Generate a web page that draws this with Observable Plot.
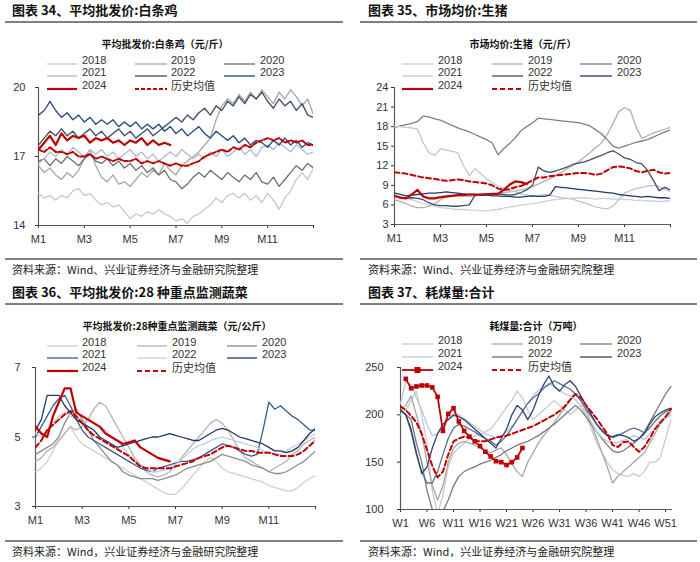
<!DOCTYPE html>
<html><head><meta charset="utf-8">
<script src="https://cdn.jsdelivr.net/npm/d3@7"></script>
<script src="https://cdn.jsdelivr.net/npm/@observablehq/plot@0.6"></script>
<style>
body{margin:0;background:#fff;width:700px;height:562px;position:relative;overflow:hidden;font-family:"Liberation Sans","Noto Sans CJK SC",sans-serif;}
.abs{position:absolute;white-space:nowrap;}
.hdr{font-family:"Noto Sans CJK SC";font-weight:700;font-size:13px;color:#111;}
.ttl{font-family:"Noto Sans CJK SC";font-weight:700;font-size:10px;color:#111;}
.lg{font-family:"Liberation Sans","Noto Sans CJK SC";font-size:11px;color:#333;}
.src{font-family:"Noto Sans CJK SC";font-size:11px;color:#222;}
</style></head><body>
<script>
// ---------- shared categories / ticks ----------
const seriesKeys = ["2018","2019","2020","2021","2022","2023","2024","历史均值"];
const monthTickVals = [0,2,4,6,8,10,12];
const monthTickLabels = ["M1","M3","M5","M7","M9","M11",""];
const weekTickVals = [1,6,11,16,21,26,31,36,41,46,51];
const weekTickLabels = ["W1","W6","W11","W16","W21","W26","W31","W36","W41","W46","W51"];
const monthX = d3.range(49).map(i => i / 4);
const weekX = d3.range(1, 53);

// ---------- 图表34 白条鸡 (元/斤) ----------
const chicken2018 = [15.4,15.2,15.3,15.1, 15.3,15.2,15.5,15.6, 15.3,15.4,15.1,14.9, 15.0,14.8,14.9,14.6, 14.3,14.5,14.4,14.6, 14.5,14.7,14.5,14.4, 14.2,14.3,14.1,14.4, 14.5,14.7,14.9,15.2, 15.0,15.3,15.4,15.2, 15.4,15.1,15.3,15.0, 15.4,15.1,14.7,15.2, 15.5,16.0,16.3,16.0, 16.5];
const chicken2019 = [16.6,16.3,16.5,16.2, 16.0,16.3,16.1,16.4, 16.9,17.3,16.6,16.1, 15.9,16.2,15.8,15.9, 15.7,16.0,16.3,16.1, 16.4,16.2,16.7,16.4, 16.2,16.6,16.8,17.0, 17.2,17.5,17.8,18.6, 19.2,19.5,19.3,19.7, 19.4,19.8,19.5,19.9, 19.6,19.3,19.8,19.5, 19.9,19.6,19.2,19.5, 18.8];
const chicken2020 = [16.8,16.9,16.6,16.9, 16.7,17.0,16.8,16.6, 16.9,17.1,16.8,16.7, 16.9,16.6,16.8,16.5, 16.7,16.4,16.6,16.3, 16.5,16.2,16.4,16.0, 15.9,15.6,15.8,16.1, 16.3,16.1,16.4,16.2, 16.0,16.3,16.1,15.9, 16.2,16.0,16.3,15.9, 15.8,16.1,15.7,16.0, 16.3,16.6,16.4,16.7, 16.5];
const chicken2021 = [16.7,16.9,17.2,17.0, 17.3,17.1,17.4,17.2, 17.0,17.3,17.1,17.3, 17.0,17.2,16.9,17.1, 17.3,17.0,17.2,16.9, 17.1,16.8,17.0,17.2, 17.0,17.3,17.1,16.9, 17.1,16.9,17.2,17.0, 17.3,17.0,17.2,17.4, 17.1,17.3,17.0,17.4, 17.5,17.3,17.6,17.4, 17.2,17.5,17.3,17.1, 17.2];
const chicken2022 = [17.5,17.8,18.1,17.9, 18.2,17.9,18.1,17.8, 18.0,18.2,17.9,18.1, 17.8,18.0,18.2,17.9, 18.1,17.8,18.0,18.2, 17.9,18.1,18.3,18.5, 18.7,18.5,18.8,18.6, 18.9,19.1,18.8,19.2, 19.0,19.4,19.2,19.6, 19.3,19.7,19.5,19.8, 19.4,19.1,19.5,19.2, 19.4,19.0,19.3,18.8, 18.7];
const chicken2023 = [18.8,19.0,19.4,19.0, 18.7,18.9,18.6,18.8, 18.5,18.7,18.4,18.6, 18.4,18.6,18.3,18.5, 18.3,18.5,18.2,18.4, 18.2,18.4,18.1,18.3, 18.0,18.2,17.9,18.1, 18.3,18.0,17.8,18.1, 17.9,17.7,17.9,17.6, 17.8,17.5,17.7,17.6, 17.4,17.7,17.5,17.8, 17.5,17.7,17.4,17.6, 17.5];
const chicken2024 = [17.3,17.6,17.9,17.5, 18.0,17.7,17.9,17.8, 17.9,17.6,17.8,17.7, 17.8,17.6,17.7,17.5, 17.7,17.6,17.8,17.5, 17.7,17.5,17.6,17.5];
const chickenHist = [17.3,17.2,17.4,17.2, 17.2,17.1,17.2,17.0, 17.0,17.1,16.9,17.0, 16.9,16.8,16.9,16.8, 16.8,16.9,16.7,16.8, 16.7,16.8,16.7,16.6, 16.7,16.6,16.6,16.7, 16.8,17.0,17.1,17.2, 17.3,17.2,17.4,17.3, 17.5,17.4,17.6,17.7, 17.8,17.7,17.8,17.6, 17.7,17.6,17.7,17.5, 17.5];

// ---------- 图表35 生猪 (元/斤) ----------
const pig2018 = [7.4,7.2,7.0,6.8, 6.5,6.2,6.0,5.8, 5.6,5.5,5.4,5.3, 5.3,5.2,5.2,5.1, 5.1,5.2,5.3,5.5, 5.7,5.8,6.0,6.1, 6.2,6.3,6.5,6.7, 6.8,6.9,7.0,7.0, 7.1,7.1,7.0,6.9, 7.0,7.0,6.9,6.9, 6.8,6.8,6.7,6.7, 6.6,6.6,6.5,6.6, 6.6];
const pig2019 = [6.8,6.5,6.2,5.8, 5.6,5.6,5.8,6.2, 6.8,7.2,7.3,7.4, 7.4,7.3,7.4,7.5, 7.6,7.7,7.8,7.9, 8.0,8.1,8.3,8.5, 8.8,9.2,9.6,10.0, 10.5,11.0,11.5,12.0, 12.6,13.3,14.0,14.8, 15.5,16.8,18.5,20.3, 20.9,20.5,18.0,16.2, 16.6,17.0,17.3,17.6, 17.9];
const pig2020 = [17.9,18.1,18.3,18.5, 18.8,19.6,19.5,19.2, 19.0,18.6,18.2,17.8, 17.5,17.2,16.8,16.4, 16.0,15.5,13.7,14.6, 15.4,16.3,17.4,18.0, 18.6,19.3,19.2,19.1, 19.0,18.9,18.8,18.7, 18.6,18.4,18.1,17.5, 16.9,16.0,15.0,14.7, 15.0,15.3,15.6,15.8, 16.0,16.4,16.8,17.2, 17.5];
const pig2021 = [18.0,18.0,17.9,17.8, 17.6,15.5,14.0,13.6, 14.6,14.4,14.2,14.0, 12.0,10.5,11.6,10.8, 10.0,9.4,8.9,8.5, 8.2,8.0,7.7,7.5, 7.3,7.4,7.6,7.5, 7.3,7.1,7.0,6.9, 6.6,6.3,6.0,5.7, 5.5,5.4,5.8,6.8, 7.8,8.2,8.5,8.7, 8.9,9.0,8.8,8.4, 8.0];
const pig2022 = [7.4,7.2,7.0,7.1, 7.0,6.8,6.3,6.0, 5.9,5.9,5.8,5.8, 5.9,6.0,7.5,7.6, 7.7,7.6,7.7,7.6, 7.5,7.6,7.9,8.3, 9.0,11.8,11.2,11.0, 11.2,11.5,11.8,12.2, 12.4,12.6,12.9,13.3, 13.6,14.0,14.3,13.8, 13.2,13.0,12.5,12.3, 11.3,9.8,8.2,8.7, 8.3];
const pig2023 = [7.8,7.6,7.4,7.5, 7.6,7.7,7.8,7.8, 7.9,8.0,7.9,7.8, 7.7,7.6,7.6,7.5, 7.5,7.4,7.4,7.3, 7.3,7.2,7.2,7.3, 7.4,7.3,7.3,7.5, 8.8,8.7,8.6,8.5, 8.4,8.3,8.2,8.1, 8.0,7.9,7.8,7.6, 7.5,7.4,7.3,7.2, 7.3,7.2,7.1,7.1, 7.0];
const pig2024 = [7.4,7.1,7.0,7.6, 8.3,7.3,7.0,7.0, 7.2,7.3,7.4,7.5, 7.5,7.6,7.6,7.6, 7.6,7.7,7.7,8.3, 9.1,9.6,9.5,9.2];
const pigHist = [11.0,10.9,10.8,10.6, 10.4,10.2,10.1,10.0, 9.8,9.7,9.8,9.9, 9.8,9.6,9.5,9.4, 9.3,9.0,8.5,8.3, 8.4,8.7,8.9,9.3, 9.8,10.2,10.2,10.4, 10.5,10.6,10.7,10.8, 10.9,10.9,10.8,10.6, 10.8,11.3,11.8,11.9, 11.8,11.6,11.2,11.0, 11.2,11.4,11.0,10.8, 10.9];

// ---------- 图表36 28种重点监测蔬菜 (元/公斤) ----------
const veg2018 = [4.0,4.1,4.3,4.6, 4.9,5.1,5.3,5.0, 4.8,4.7,4.6,4.5, 4.4,4.3,4.2,4.1, 4.0,3.9,3.8,3.7, 3.6,3.5,3.4,3.35, 3.35,3.5,3.7,3.9, 4.1,4.3,4.4,4.3, 4.1,4.0,3.95,3.9, 3.85,3.8,3.75,3.7, 3.6,3.55,3.5,3.45, 3.45,3.55,3.7,3.8, 3.9];
const veg2019 = [4.3,4.4,4.6,4.7, 4.9,5.1,5.3,5.2, 5.3,5.5,5.8,6.0, 5.9,5.6,5.3,5.0, 4.7,4.4,4.2,4.0, 3.9,3.85,3.9,4.0, 4.2,4.4,4.6,4.8, 5.0,5.2,5.4,5.5, 5.4,5.2,4.9,4.6, 4.4,4.3,4.2,4.1, 4.0,4.1,4.2,4.3, 4.5,4.6,4.8,4.9, 5.0];
const veg2020 = [4.5,4.6,4.7,4.8, 5.0,5.4,5.7,5.8, 5.5,5.2,4.9,4.7, 4.5,4.3,4.2,4.0, 3.9,3.85,3.8,3.8, 3.8,3.75,3.8,3.85, 3.9,4.0,4.1,4.15, 4.2,4.25,4.3,4.4, 4.5,4.45,4.4,4.35, 4.3,4.2,4.15,4.1, 4.0,3.95,3.95,4.0, 4.1,4.2,4.3,4.45, 4.6];
const veg2021 = [5.0,5.3,5.6,5.9, 6.1,6.2,5.9,5.5, 5.2,5.0,4.9,4.8, 4.7,4.6,4.5,4.4, 4.3,4.2,4.1,4.05, 4.0,4.1,4.15,4.2, 4.25,4.3,4.3,4.35, 4.4,4.5,4.6,4.7, 4.8,4.75,4.7,4.6, 4.5,4.45,4.5,5.2, 6.0,5.8,5.9,5.75, 5.6,5.5,5.35,5.2, 5.2];
const veg2022 = [5.1,5.0,5.2,5.4, 5.6,5.7,5.6,5.5, 5.4,5.5,5.4,5.3, 5.2,5.0,4.9,4.7, 4.5,4.3,4.2,4.1, 4.0,4.0,4.05,4.1, 4.2,4.35,4.5,4.65, 4.75,4.8,4.9,4.95, 5.0,4.95,4.9,4.85, 4.8,4.75,4.7,4.6, 4.55,4.5,4.5,4.6, 4.7,4.8,4.9,5.0, 5.1];
const veg2023 = [5.2,5.5,6.2,6.2, 6.2,5.9,5.7,5.5, 5.4,5.3,5.2,5.0, 4.9,4.8,4.7,4.75, 4.8,4.85,4.9,4.95, 5.0,5.0,5.05,5.1, 5.05,5.0,4.95,4.9, 4.9,5.0,5.1,5.2, 5.25,5.2,5.1,5.0, 4.95,4.9,4.85,4.8, 4.7,4.6,4.6,4.55, 4.6,4.7,4.9,5.1, 5.25];
const veg2024 = [5.3,5.1,5.0,5.6, 6.0,6.4,6.4,5.7, 5.6,5.5,5.4,5.3, 5.1,5.0,4.9,4.8, 4.85,4.9,4.7,4.6, 4.5,4.4,4.35,4.3];
const vegHist = [4.7,4.9,5.2,5.35, 5.5,5.65,5.75,5.6, 5.4,5.2,5.05,4.95, 4.85,4.75,4.65,4.55, 4.45,4.3,4.15,4.1, 4.1,4.1,4.1,4.1, 4.15,4.2,4.25,4.3, 4.4,4.45,4.5,4.6, 4.7,4.75,4.7,4.65, 4.6,4.6,4.55,4.55, 4.55,4.5,4.45,4.45, 4.45,4.5,4.6,4.75, 4.9];

// ---------- 图表37 耗煤量:合计 (万吨), weekly ----------
const coal2018 = [200,205,215,225,200,170,120,95,115,145, 160,165,170,175,178,180,182,185,192,200, 208,215,225,218,205,195,200,205,210,215, 210,205,200,205,210,198,185,170,160,150, 142,138,136,135,138,135,140,150,150,155, 175,195];
const coal2019 = [205,210,220,200,180,150,125,110,125,150, 165,170,172,170,168,165,162,160,163,165, 158,148,140,135,150,160,170,178,185,192, 200,208,215,222,215,205,190,175,160,145, 128,135,140,145,150,155,160,170,180,190, 197,203];
const coal2020 = [205,200,195,170,150,120,100,92,98,110, 125,135,140,143,145,148,150,152,155,158, 162,165,168,170,172,175,178,182,186,190, 195,200,205,210,205,198,190,182,175,168, 162,160,162,166,170,175,182,192,202,212, 222,230];
const coal2021 = [212,235,232,218,205,190,178,180,188,195, 198,200,196,192,188,184,180,178,176,178, 182,188,195,204,212,220,226,230,233,230, 226,222,220,216,210,202,192,182,176,172, 170,171,173,175,178,176,174,180,186,191, 196,200];
const coal2022 = [205,200,182,158,140,128,128,140,158,175, 186,190,188,185,182,178,175,172,168,172, 178,186,195,204,212,218,222,228,232,236, 233,230,227,222,215,206,198,190,184,179, 176,178,181,184,186,184,181,186,193,199, 203,206];
const coal2023 = [205,200,185,160,138,145,165,180,190,195, 200,198,195,190,185,180,175,170,165,175, 185,200,210,205,195,205,220,232,241,230, 225,232,236,230,220,210,200,190,183,178, 177,179,178,176,172,175,180,190,198,202, 205,207];
const coal2024 = [238,228,230,231,231,229,219,183,201,207,193,183,177,172,167,161,156,151,150,147,150,155,165];
const coalHist = [209,205,199,192,180,163,146,134,140,158, 172,175,177,176,173,172,172,174,176,177, 178,180,182,184,186,188,191,194,197,200, 204,209,216,222,218,210,203,196,188,180, 168,166,171,172,166,161,166,175,185,192, 198,206];

// ---------- helpers ----------
const root = document.body;
function el(tag, cls, txt) { const d = document.createElement(tag); if (cls) d.className = cls; if (txt != null) d.textContent = txt; root.appendChild(d); return d; }
function text(txt, x, y, cls, center) {
  const d = el("div", "abs " + cls, txt);
  d.style.left = x + "px"; d.style.top = y + "px";
  d.style.transform = center ? "translate(-50%,-50%)" : "translateY(-50%)";
}
function hrule(x1, x2, y) {
  const d = el("div", "abs");
  Object.assign(d.style, {left: x1 + "px", top: (y - 0.75) + "px", width: (x2 - x1) + "px", height: "1.5px", background: "#7f7f7f"});
}
function sample(x1, x2, y, st) {
  const d = el("div", "abs");
  Object.assign(d.style, {left: x1 + "px", top: (y - 5) + "px", width: (x2 - x1) + "px", height: "10px"});
  let s = `<svg width="${x2 - x1}" height="10"><line x1="0" x2="${x2 - x1}" y1="5" y2="5" stroke="${st.color}" stroke-width="${st.w}" ${st.dash ? `stroke-dasharray="${st.dash}"` : ""}/>`;
  if (st.marker) s += `<rect x="${(x2 - x1) / 2 - 3}" y="2" width="6" height="6" fill="${st.color}"/>`;
  d.innerHTML = s + "</svg>";
}

function panel(p) {
  text(p.header, p.hx, p.top + 8.5, "hdr");
  hrule(p.rx1, p.rx2, p.top + 22);
  text(p.title, p.tx, p.top + 43, "ttl", true);
  hrule(p.rx1, p.rx2, p.top + 259);
  text(p.source, p.hx, p.top + 269, "src");
  p.series.forEach((s, i) => {
    const col = i < 6 ? i % 3 : i - 6, row = i < 6 ? Math.floor(i / 3) : 2;
    const y = p.top + p.legRows[row];
    sample(p.legCols[col][0], p.legCols[col][1], y, s);
    text(s.key, p.legCols[col][2], y, "lg");
  });
  const rows = [];
  p.series.forEach(s => s.values.forEach((v, i) => rows.push({s: s.key, x: s.xs[i], y: v})));
  const marks = [
    Plot.axisY({ticks: p.yTicks, tickFormat: d => String(d), tickSize: 3, tickPadding: p.yPad, fontSize: 11, label: null}),
    Plot.axisX({ticks: p.xTicks, tickFormat: d => p.xLabels[p.xTicks.indexOf(d)] ?? "", tickSize: 3, tickPadding: 7, fontSize: 11, label: null}),
    Plot.ruleY([p.yDomain[0]], {stroke: "#595959", strokeWidth: 1.2}),
    Plot.ruleX([p.xDomain[0]], {stroke: "#595959", strokeWidth: 1.2})
  ];
  p.series.forEach(s => {
    marks.push(Plot.line(rows.filter(r => r.s === s.key), {x: "x", y: "y", stroke: s.color, strokeWidth: s.w, strokeDasharray: s.dash, clip: true}));
    if (s.marker) marks.push(Plot.dot(rows.filter(r => r.s === s.key), {x: "x", y: "y", symbol: "square", fill: s.color, r: 2.6, clip: true}));
  });
  const svg = Plot.plot({
    width: 350, height: 175,
    marginLeft: p.m[0], marginRight: p.m[1], marginTop: p.m[2], marginBottom: p.m[3],
    x: {domain: p.xDomain}, y: {domain: p.yDomain},
    style: {fontFamily: "Liberation Sans, Noto Sans CJK SC, sans-serif", fontSize: "11px", color: "#333", background: "transparent"},
    marks
  });
  svg.style.position = "absolute";
  svg.style.left = p.left + "px";
  svg.style.top = (p.top + 80) + "px";
  root.appendChild(svg);
}

function mk(xs, vals, color, w, dash, marker) { return {xs, values: vals, color, w, dash, marker}; }
function named(list) { return list.map((s, i) => Object.assign(s, {key: seriesKeys[i]})); }

const legL = [[47, 77, 82], [135, 167, 171], [224, 255, 260]];
const legR = [[402, 433, 438], [492, 523, 528], [580, 612, 617]];

panel({
  left: 0, top: 0, hx: 12, rx1: 5, rx2: 343, tx: 165,
  header: "图表 34、平均批发价:白条鸡", title: "平均批发价:白条鸡（元/斤）",
  source: "资料来源：Wind、兴业证券经济与金融研究院整理",
  legCols: legL, legRows: [60, 72, 85],
  m: [38, 37, 7, 30], yPad: 10,
  xDomain: [0, 12], yDomain: [14, 20], yTicks: [14, 17, 20], xTicks: monthTickVals, xLabels: monthTickLabels,
  series: named([
    mk(monthX, chicken2018, "#c8c8c8", 1.3), mk(monthX, chicken2019, "#a6a6a6", 1.3), mk(monthX, chicken2020, "#6e6e6e", 1.3),
    mk(monthX, chicken2021, "#adbbd0", 1.3), mk(monthX, chicken2022, "#44546a", 1.4), mk(monthX, chicken2023, "#2e4e86", 1.4),
    mk(monthX.slice(0, 24), chicken2024, "#c00000", 2.2), mk(monthX, chickenHist, "#c00000", 2, "4,2")
  ])
});

panel({
  left: 350, top: 0, hx: 368, rx1: 360, rx2: 697, tx: 523,
  header: "图表 35、市场均价:生猪", title: "市场均价:生猪（元/斤）",
  source: "资料来源：Wind、兴业证券经济与金融研究院整理",
  legCols: legR, legRows: [60, 72, 85],
  m: [44, 30, 7, 31], yPad: 3,
  xDomain: [0, 12], yDomain: [3, 24], yTicks: [3, 6, 9, 12, 15, 18, 21, 24], xTicks: monthTickVals, xLabels: monthTickLabels,
  series: named([
    mk(monthX, pig2018, "#d0d0d0", 1.3), mk(monthX, pig2019, "#b0b0b0", 1.3), mk(monthX, pig2020, "#7f7f7f", 1.3),
    mk(monthX, pig2021, "#bcc6d6", 1.3), mk(monthX, pig2022, "#3f4f6b", 1.3), mk(monthX, pig2023, "#203a6a", 1.3),
    mk(monthX.slice(0, 24), pig2024, "#c00000", 2.2), mk(monthX, pigHist, "#c00000", 2, "5,3")
  ])
});

panel({
  left: 0, top: 282, hx: 12, rx1: 5, rx2: 343, tx: 177,
  header: "图表 36、平均批发价:28 种重点监测蔬菜", title: "平均批发价:28种重点监测蔬菜（元/公斤）",
  source: "资料来源：Wind，兴业证券经济与金融研究院整理",
  legCols: [[47, 78, 82], [137, 167, 172], [227, 257, 262]], legRows: [60, 72, 85],
  m: [35, 35, 5, 31], yPad: 12,
  xDomain: [0, 12], yDomain: [3, 7], yTicks: [3, 5, 7], xTicks: monthTickVals, xLabels: monthTickLabels,
  series: named([
    mk(monthX, veg2018, "#d0d0d0", 1.3), mk(monthX, veg2019, "#b3b3b3", 1.3), mk(monthX, veg2020, "#8c8c8c", 1.3),
    mk(monthX, veg2021, "#3c5a8c", 1.3), mk(monthX, veg2022, "#c3ccdb", 1.3), mk(monthX, veg2023, "#1f3864", 1.3),
    mk(monthX.slice(0, 24), veg2024, "#c00000", 2.2), mk(monthX, vegHist, "#c00000", 2, "5,3")
  ])
});

panel({
  left: 350, top: 282, hx: 368, rx1: 360, rx2: 697, tx: 536,
  header: "图表 37、耗煤量:合计", title: "耗煤量:合计（万吨）",
  source: "资料来源：Wind，兴业证券经济与金融研究院整理",
  legCols: legR, legRows: [58, 71, 84],
  m: [50, 28, 5, 28], yPad: 14,
  xDomain: [1, 52.3], yDomain: [100, 250], yTicks: [100, 150, 200, 250], xTicks: weekTickVals, xLabels: weekTickLabels,
  series: named([
    mk(weekX, coal2018, "#cbcbcb", 1.3), mk(weekX, coal2019, "#a6a6a6", 1.3), mk(weekX, coal2020, "#7b7b7b", 1.3),
    mk(weekX, coal2021, "#b8c7e0", 1.3), mk(weekX, coal2022, "#5f6f8c", 1.3), mk(weekX, coal2023, "#2f4470", 1.3),
    mk(weekX.slice(1, 24), coal2024, "#c00000", 1.8, null, true), mk(weekX, coalHist, "#c00000", 2, "5,3")
  ])
});
</script>
</body></html>
